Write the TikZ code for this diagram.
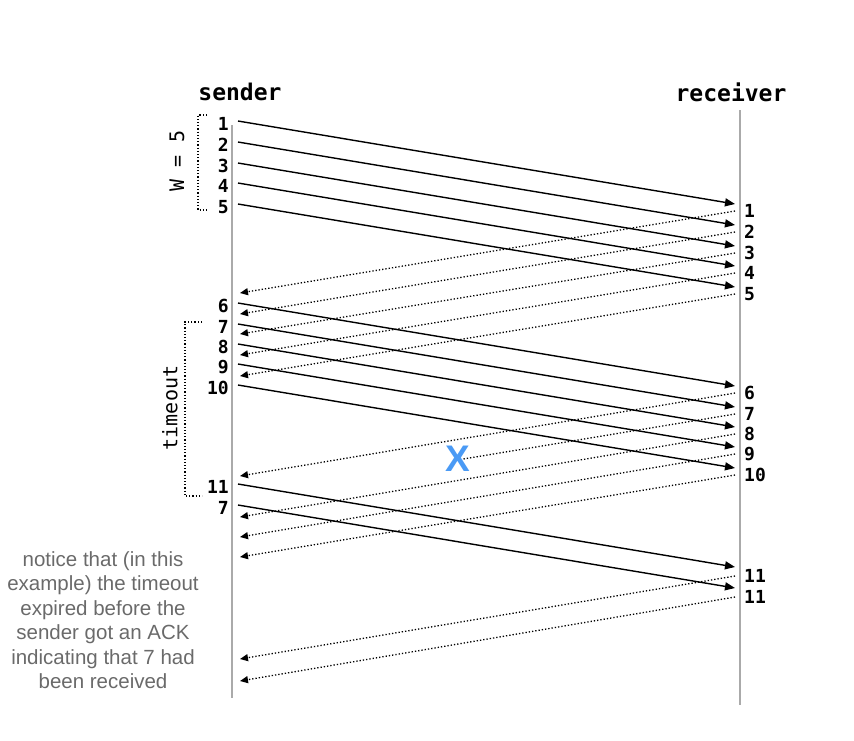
\documentclass[tikz,border=0pt]{standalone}
\usepackage{fontspec}
\setmainfont{Liberation Sans}
\setmonofont{DejaVu Sans Mono}
\usetikzlibrary{arrows.meta, calc}

\definecolor{lifegray}{HTML}{AAAAAA}
\definecolor{notegray}{HTML}{6A6A6A}
\definecolor{lossblue}{HTML}{4A9AF5}

\begin{document}
\begin{tikzpicture}[x=1pt, y=-1pt,
    party/.style={font=\ttfamily\bfseries\fontsize{23}{23}\selectfont, inner sep=0pt},
    seqno/.style={font=\ttfamily\bfseries\fontsize{18}{18}\selectfont, inner sep=0pt},
    side/.style={font=\ttfamily\fontsize{20}{20}\selectfont, rotate=90, inner sep=0pt},
    lifeline/.style={draw=lifegray, line width=2pt},
    msg/.style={-{Triangle[length=10pt, width=8pt]}, line width=1.4pt, draw=black},
    ack/.style={-{Triangle[length=8pt, width=7pt]}, line width=1.3pt, dotted, draw=black},
    brace/.style={dotted, line width=1.2pt, draw=black},
    note/.style={font=\fontsize{20.5}{24.5}\selectfont, text=notegray, align=center}
]
\useasboundingbox (0,0) rectangle (854,740);

% the two ends of the link
\node[party] (sender) at (240,92) {sender};
\node[party] (receiver) at (731,92) {receiver};
\coordinate (sndtop) at (232,125);
\coordinate (sndbot) at (232,698);
\coordinate (rcvtop) at (740,110);
\coordinate (rcvbot) at (740,705);
\draw[lifeline] (sndtop) -- (sndbot);
\draw[lifeline] (rcvtop) -- (rcvbot);

% packets sent
\foreach \i/\lab/\y in {1/1/121, 2/2/142, 3/3/163, 4/4/183, 5/5/204,
                        6/6/303, 7/7/324, 8/8/344, 9/9/364, 10/10/385,
                        11/11/484, 12/7/505}{
  \coordinate (tx\i) at (238,\y);
  \coordinate (rx\i) at (735,\y+83);
  \node[seqno, anchor=east] (snd\i) at (229,\y+3) {\lab};
  \draw[msg] (tx\i) -- (rx\i);
}

% acks coming back
\foreach \i/\lab/\y/\z in {1/1/211/293, 2/2/232/314, 3/3/253/334, 4/4/273/355, 5/5/294/376,
                           6/6/393/476, 7/7/414/496, 8/8/434/517, 9/9/454/537, 10/10/475/557,
                           11/11/576/659, 12/11/597/681}{
  \coordinate (ackout\i) at (735,\y);
  \coordinate (ackin\i) at (240,\z);
  \node[seqno, anchor=west] (rcv\i) at (744,\y) {\lab};
}
\foreach \i in {1,...,6,8,9,10,11,12}{\draw[ack] (ackout\i) -- (ackin\i);}
\draw[ack, -] (ackout7) -- ($(ackout7)!0.55!(ackin7)$);
\node[font=\bfseries\fontsize{37}{37}\selectfont, text=lossblue, inner sep=0pt] (lost) at (458,459) {X};

% window and timer brackets
\coordinate (wtop) at (207,115);
\coordinate (wbot) at (207,210);
\draw[brace] (wtop) -- (198,115) -- (198,210) -- (wbot);
\node[side] (window) at (177,161) {W = 5};
\coordinate (ttop) at (202,322);
\coordinate (tbot) at (202,496);
\draw[brace] (ttop) -- (185,322) -- (185,496) -- (tbot);
\node[side] (timer) at (170,408) {timeout};

\node[note] (notice) at (103,620) {notice that (in this\\example) the timeout\\expired before the\\sender got an ACK\\indicating that 7 had\\been received};
\end{tikzpicture}
\end{document}
